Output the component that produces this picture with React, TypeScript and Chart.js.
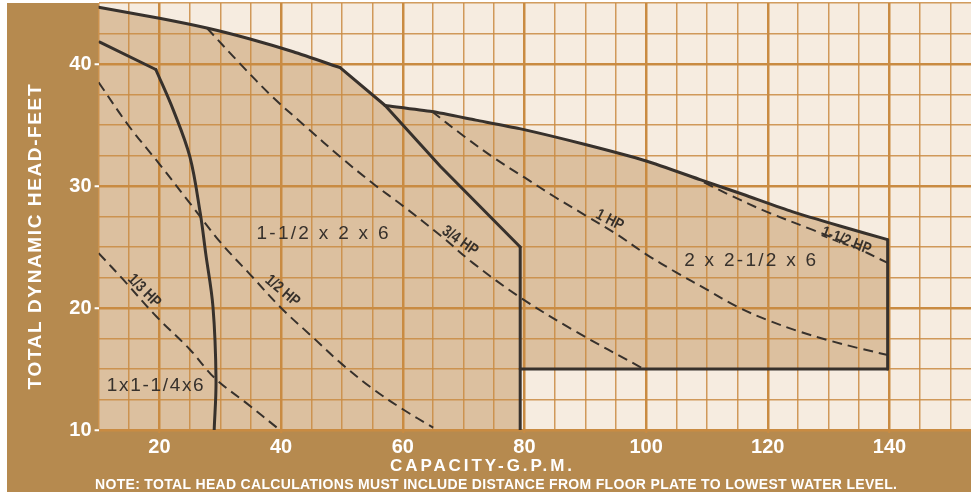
import React, { useEffect, useRef } from 'react';
import { Chart, registerables } from 'chart.js';

// ---------- data ----------
const X_MIN = 10;
const X_MAX = 153.4;
const Y_MIN = 10;
const Y_MAX = 45;

const xTickValues = [10, 15, 20, 25, 30, 35, 40, 45, 50, 55, 60, 65, 70, 75, 80, 85, 90, 95, 100, 105, 110, 115, 120, 125, 130, 135, 140, 145, 150];
const yTickValues = [10, 12.5, 15, 17.5, 20, 22.5, 25, 27.5, 30, 32.5, 35, 37.5, 40, 42.5, 45];
const xLabelValues = [20, 40, 60, 80, 100, 120, 140];
const yLabelValues = [10, 20, 30, 40];

// solid envelope lines
const outerTop: [number, number][] = [[10, 44.65], [20, 43.75], [27.8, 42.95], [34.9, 42.05], [42, 41.0], [49.7, 39.7]];
const outerKink: [number, number][] = [[49.7, 39.7], [57.1, 36.6]];
const midEnvelope: [number, number][] = [[57.1, 36.6], [66.2, 31.6], [79.3, 25.0]];
const largeTop: [number, number][] = [[57.1, 36.6], [64.8, 36.1], [72, 35.4], [79.2, 34.7], [90, 33.4], [100, 32.05], [109, 30.5], [116, 29.3], [124, 27.9], [132, 26.7], [139.7, 25.6]];
const largeRight: [number, number][] = [[139.7, 25.6], [139.7, 15]];
const largeBottom: [number, number][] = [[139.7, 15], [79.3, 15]];
const midRight: [number, number][] = [[79.3, 25.0], [79.3, 10]];
const smallTop: [number, number][] = [[10.2, 41.8], [19.4, 39.55]];
const smallRight: [number, number][] = [[19.4, 39.55], [22.3, 36.2], [25.0, 32.4], [26.7, 27.8], [27.6, 24.5], [28.8, 20.1], [29.3, 14.1], [29.0, 10]];

// dashed horsepower lines
const hp13: [number, number][] = [[10, 24.5], [14.1, 22.3], [19.5, 19.3], [25, 16.6], [29.1, 14.25], [34.3, 12.2], [39.8, 10]];
const hp12: [number, number][] = [[10, 38.5], [15, 34.9], [20, 31.8], [25, 28.6], [30, 25.4], [35, 22.7], [40, 20.0], [45, 17.7], [50, 15.4], [55, 13.4], [60, 11.7], [65, 10.2]];
const hp34: [number, number][] = [[27.8, 42.95], [33.2, 40.05], [38.6, 37.3], [44.2, 34.8], [49.7, 32.4], [55.1, 30.2], [60.2, 28.3], [66.3, 25.9], [71.5, 23.7], [79.2, 20.9], [88, 18.2], [99.6, 15]];
const hp1: [number, number][] = [[64.8, 36.1], [70, 34.1], [75, 32.3], [80, 30.7], [85, 29.1], [90, 27.6], [95, 26.1], [100, 24.4], [105, 22.9], [110, 21.5], [115, 20.1], [120, 19.0], [125, 18.1], [130, 17.35], [135, 16.7], [139.7, 16.15]];
const hp112: [number, number][] = [[109.5, 30.3], [114, 29.2], [119.75, 27.9], [127.4, 26.4], [133.4, 25.2], [139.7, 23.7]];

// in-chart labels
const modelLabels = ['1x1-1/4x6', '1-1/2 x 2 x 6', '2 x 2-1/2 x 6'];
const modelLabelPos: [number, number][] = [[19.3, 13.6], [46.8, 26.1], [117.1, 23.9]];
const hpLabels = ['1/3 HP', '1/2 HP', '3/4 HP', '1 HP', '1-1/2 HP'];
const hpLabelPos: [number, number][] = [[17.5, 21.4], [40.2, 21.4], [69.4, 25.5], [94.0, 27.2], [132.9, 25.5]];
const hpLabelAngle = [45, 40, 35, 27, 21];

const xTitle = 'CAPACITY-G.P.M.';
const yTitle = 'TOTAL DYNAMIC HEAD-FEET';
const noteText = 'NOTE: TOTAL HEAD CALCULATIONS MUST INCLUDE DISTANCE FROM FLOOR PLATE TO LOWEST WATER LEVEL.';

// ---------- styles ----------
const FRAME = '#b68a4f';
const PAPER = '#f6ece0';
const SHADE = '#dcc09f';
const GRID = '#c98b42';
const INK = '#37312c';
const SANS = '"Liberation Sans", Arial, sans-serif';

const pts = (a: [number, number][]) => a.map(([x, y]) => ({ x, y }));

const shadePolygon: [number, number][] = [
  ...outerTop,
  ...outerKink.slice(1),
  ...largeTop.slice(1),
  ...largeRight.slice(1),
  ...largeBottom.slice(1),
  ...midRight.slice(1),
  [X_MIN, Y_MIN],
];

const bgPlugin = {
  id: 'paperBackground',
  beforeDraw(chart: any) {
    const { ctx, chartArea, width, height } = chart;
    ctx.save();
    ctx.fillStyle = '#ffffff';
    ctx.fillRect(0, 0, width, height);
    ctx.fillStyle = FRAME;
    ctx.fillRect(7, chartArea.top, width - 7, height - chartArea.top);
    ctx.fillStyle = PAPER;
    ctx.fillRect(chartArea.left, chartArea.top, chartArea.right - chartArea.left, chartArea.bottom - chartArea.top);
    ctx.restore();
  },
};

Chart.register(bgPlugin);
Chart.register(...registerables);

function fitText(ctx: CanvasRenderingContext2D, text: string, x: number, y: number, target: number) {
  ctx.letterSpacing = '0px';
  const w = ctx.measureText(text).width;
  const ls = (target - w) / Math.max(1, text.length - 1);
  ctx.letterSpacing = `${ls}px`;
  ctx.textAlign = 'left';
  ctx.fillText(text, x - target / 2, y);
  ctx.letterSpacing = '0px';
}

const textPlugin = {
  id: 'chartTexts',
  afterDatasetsDraw(chart: any) {
    const { ctx } = chart;
    const xs = chart.scales.x;
    const ys = chart.scales.y;
    ctx.save();
    ctx.fillStyle = INK;
    ctx.textBaseline = 'middle';
    const modelWidths = [97, 132, 132];
    ctx.font = `19px ${SANS}`;
    modelLabels.forEach((t, i) => {
      const px = xs.getPixelForValue(modelLabelPos[i][0]);
      const py = ys.getPixelForValue(modelLabelPos[i][1]);
      fitText(ctx, t, px, py, modelWidths[i]);
    });
    ctx.font = `bold 16px ${SANS}`;
    hpLabels.forEach((t, i) => {
      const px = xs.getPixelForValue(hpLabelPos[i][0]);
      const py = ys.getPixelForValue(hpLabelPos[i][1]);
      ctx.save();
      ctx.translate(px, py);
      ctx.rotate((hpLabelAngle[i] * Math.PI) / 180);
      ctx.scale(0.82, 1);
      ctx.textAlign = 'center';
      ctx.fillText(t, 0, 0);
      ctx.restore();
    });
    ctx.restore();
  },
  afterDraw(chart: any) {
    const { ctx } = chart;
    ctx.save();
    ctx.fillStyle = '#ffffff';
    ctx.textBaseline = 'alphabetic';
    ctx.font = `bold 17px ${SANS}`;
    fitText(ctx, xTitle, 481, 471, 182);
    ctx.font = `bold 14px ${SANS}`;
    fitText(ctx, noteText, 496, 489, 802);
    ctx.save();
    ctx.translate(35.5, 237);
    ctx.rotate(-Math.PI / 2);
    ctx.textBaseline = 'middle';
    ctx.font = `bold 19px ${SANS}`;
    fitText(ctx, yTitle, 0, 0, 305);
    ctx.restore();
    ctx.restore();
  },
};

const solid = (data: [number, number][], tension = 0) => ({
  data: pts(data),
  borderColor: INK,
  borderWidth: 3,
  pointRadius: 0,
  tension,
  fill: false,
  borderCapStyle: 'round' as const,
  borderJoinStyle: 'round' as const,
});
const dashed = (data: [number, number][]) => ({
  data: pts(data),
  borderColor: INK,
  borderWidth: 2,
  borderDash: [10, 6],
  pointRadius: 0,
  tension: 0.35,
  fill: false,
});

export default function App() {
  const ref = useRef<HTMLCanvasElement>(null);
  useEffect(() => {
    document.body.style.margin = '0';
    const isXMajor = (v: number) => v % 20 === 0;
    const isYMajor = (v: number) => v % 10 === 0;
    const chart = new Chart(ref.current!, {
      type: 'line',
      data: {
        datasets: [
          {
            data: pts(shadePolygon),
            borderWidth: 0,
            borderColor: 'rgba(0,0,0,0)',
            backgroundColor: SHADE,
            pointRadius: 0,
            tension: 0,
            fill: 'shape',
          } as any,
          solid(outerTop, 0.2),
          solid(outerKink),
          solid(midEnvelope),
          solid(largeTop, 0.2),
          solid(largeRight),
          solid(largeBottom),
          solid(midRight),
          solid(smallTop),
          solid(smallRight, 0.35),
          dashed(hp13),
          dashed(hp12),
          dashed(hp34),
          dashed(hp1),
          dashed(hp112),
        ],
      },
      options: {
        responsive: false,
        animation: false,
        devicePixelRatio: 1,
        layout: { padding: { top: 3, left: 0, right: 0, bottom: 0 } },
        plugins: {
          legend: { display: false },
          tooltip: { enabled: false },
          filler: { drawTime: 'beforeDraw', propagate: false },
        } as any,
        scales: {
          x: {
            type: 'linear',
            min: X_MIN,
            max: X_MAX,
            border: { display: false },
            afterBuildTicks: (s: any) => {
              s.ticks = xTickValues.map((v) => ({ value: v }));
            },
            afterFit: (s: any) => {
              s.height = 62;
              s.paddingLeft = 0;
              s.paddingRight = 0;
            },
            grid: {
              color: (c: any) => (c.tick && isXMajor(c.tick.value) ? GRID : 'rgba(201,139,66,0.85)'),
              lineWidth: (c: any) => (c.tick && isXMajor(c.tick.value) ? 2.5 : 1.5),
              drawTicks: true,
              tickLength: 3,
              tickWidth: 2,
              tickColor: (c: any) => (c.tick && xLabelValues.includes(c.tick.value) ? GRID : 'rgba(0,0,0,0)'),
            },
            ticks: {
              padding: 2,
              color: '#ffffff',
              maxRotation: 0,
              autoSkip: false,
              font: { family: SANS, size: 20, weight: 'bold' },
              callback: (v: any) => (xLabelValues.includes(Number(v)) ? String(v) : ''),
            },
          },
          y: {
            type: 'linear',
            min: Y_MIN,
            max: Y_MAX,
            border: { display: false },
            afterBuildTicks: (s: any) => {
              s.ticks = yTickValues.map((v) => ({ value: v }));
            },
            afterFit: (s: any) => {
              s.width = 98.6;
              s.paddingTop = 0;
              s.paddingBottom = 0;
            },
            grid: {
              color: (c: any) => (c.tick && isYMajor(c.tick.value) ? GRID : 'rgba(201,139,66,0.85)'),
              lineWidth: (c: any) => (c.tick && isYMajor(c.tick.value) ? 2.5 : 1.5),
              drawTicks: true,
              tickLength: 4,
              tickWidth: 2,
              tickColor: (c: any) => (c.tick && yLabelValues.includes(c.tick.value) ? '#ffffff' : 'rgba(0,0,0,0)'),
            },
            ticks: {
              padding: 3,
              color: '#ffffff',
              autoSkip: false,
              font: { family: SANS, size: 20, weight: 'bold' },
              callback: (v: any) => (yLabelValues.includes(Number(v)) ? String(v) : ''),
            },
          },
        },
      },
      plugins: [textPlugin],
    } as any);
    return () => chart.destroy();
  }, []);
  return (
    <div style={{ position: 'absolute', left: 0, top: 0, width: 971, height: 492 }}>
      <canvas ref={ref} width={971} height={492} style={{ display: 'block' }} />
    </div>
  );
}
